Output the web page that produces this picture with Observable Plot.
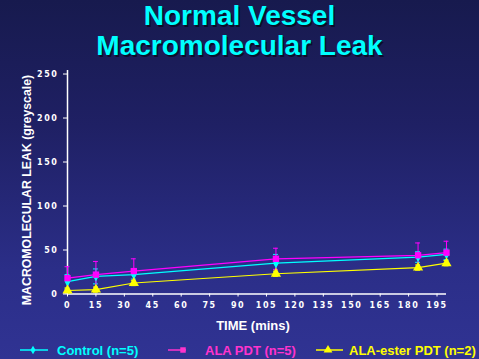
<!DOCTYPE html>
<html><head><meta charset="utf-8">
<script src="https://cdn.jsdelivr.net/npm/d3@7"></script>
<script src="https://cdn.jsdelivr.net/npm/@observablehq/plot@0.6"></script>
<style>
html,body{margin:0;padding:0;}
body{width:479px;height:359px;overflow:hidden;position:relative;
background:linear-gradient(to bottom,#171a4e 0%,#1f2064 35%,#2b2e88 75%,#303393 100%);
font-family:"Liberation Sans",Arial,sans-serif;}
#title{position:absolute;left:0;top:1px;width:479px;text-align:center;color:#00ffff;font-weight:bold;font-size:28px;line-height:30px;text-shadow:1.5px 1.5px 0 rgba(0,0,0,0.55);}
#ylabwrap{position:absolute;left:27px;top:190px;width:0;height:0;}
#ylab{position:absolute;left:0;top:0;transform:translate(-50%,-50%) rotate(-90deg);white-space:nowrap;color:#fff;font-size:12.3px;font-weight:bold;line-height:15px;}
#xlab{position:absolute;left:253px;top:318px;transform:translateX(-50%);color:#fff;font-size:13px;font-weight:bold;white-space:nowrap;}
#plot{position:absolute;left:0;top:0;}
#plot svg text{letter-spacing:1.6px;}
.leg{position:absolute;top:343px;font-size:13px;font-weight:bold;white-space:nowrap;line-height:15px;}
.sw{position:absolute;top:343px;}
</style></head>
<body>
<div id="plot"></div>
<div id="title">Normal Vessel<br>Macromolecular Leak</div>
<div id="ylabwrap"><div id="ylab">MACROMOLECULAR LEAK (greyscale)</div></div>
<div id="xlab">TIME (mins)</div>
<div id="legend"></div>
<script>
const times = [0, 15, 35, 110, 185, 200];
const control = [14, 20, 22, 35, 42, 45];
const controlErr = [8, 8.5, 5, 10, 6, 6];
const alaPdt = [18, 22, 26, 40, 44, 47];
const alaPdtErr = [13, 15, 14, 12, 14, 13];
const ester = [4, 5, 12.5, 23, 30, 35];
const esterErr = [3, 3, 3, 3, 3, 3];
const xTicks = [0,15,30,45,60,75,90,105,120,135,150,165,180,195];
const yTicks = [0,50,100,150,200,250];
const seriesNames = ["Control (n=5)", "ALA PDT (n=5)", "ALA-ester PDT (n=2)"];
const seriesColors = ["#00ffff", "#ff00ff", "#ffff00"];
const legendText = ["#00ffff", "#ff33cc", "#ffff00"];
const symbols = ["diamond", "square", "triangle"];
const symR = [3, 3.6, 3.8];

const vals = [control, alaPdt, ester];
const errs = [controlErr, alaPdtErr, esterErr];
const rows = [];
vals.forEach((v, s) => v.forEach((y, i) => rows.push({s, x: times[i], y, e: errs[s][i]})));

const marks = [];
marks.push(Plot.ruleY([0], {stroke: "#fff", strokeWidth: 1.5}));
marks.push(Plot.ruleX([0], {y1: 0, y2: 254, stroke: "#fff", strokeWidth: 1.5}));
for (let s = 0; s < 3; s++) {
  const d = rows.filter(r => r.s === s);
  marks.push(Plot.line(d, {x: "x", y: "y", stroke: seriesColors[s], strokeWidth: 1.2}));
  marks.push(Plot.ruleX(d, {x: "x", y1: r => r.y - r.e, y2: r => r.y + r.e, stroke: seriesColors[s], strokeWidth: 1}));
  marks.push(Plot.ruleY(d, {y: r => r.y + r.e, x1: r => r.x - 1.3, x2: r => r.x + 1.3, stroke: seriesColors[s], strokeWidth: 1}));
  marks.push(Plot.ruleY(d, {y: r => r.y - r.e, x1: r => r.x - 1.3, x2: r => r.x + 1.3, stroke: seriesColors[s], strokeWidth: 1}));
}
for (let s = 0; s < 3; s++) {
  const d = rows.filter(r => r.s === s);
  marks.push(Plot.dot(d, {x: "x", y: "y", symbol: () => symbols[s], fill: seriesColors[s], r: symR[s]}));
}
marks.push(Plot.axisX({ticks: xTicks, tickSize: 3, tickPadding: 5, color: "#fff", label: null, tickFormat: d => d}));
marks.push(Plot.axisY({ticks: yTicks, tickSize: 4, tickPadding: 5, color: "#fff", label: null, tickFormat: d => d}));

const chart = Plot.plot({
  width: 479, height: 359,
  marginLeft: 67, marginRight: 33, marginTop: 70, marginBottom: 65.5,
  x: {domain: [0, 200]},
  y: {domain: [0, 254]},
  symbol: {type: "identity"},
  style: {background: "transparent", color: "#fff", fontFamily: "'DejaVu Sans', sans-serif", fontSize: "8px", fontWeight: "bold", overflow: "visible"},
  marks
});
document.getElementById("plot").appendChild(chart);

const legPos = [
  {l1: 20, l2: 48, m: 33, t: 57},
  {l1: 168, l2: 186, m: 183, t: 205},
  {l1: 316, l2: 343, m: 328, t: 349}
];
const legend = document.getElementById("legend");
seriesNames.forEach((name, s) => {
  const p = legPos[s];
  const svg = d3.create("svg").attr("width", p.l2 - p.l1 + 8).attr("height", 16)
    .attr("class", "sw").style("left", (p.l1 - 4) + "px").style("overflow", "visible");
  svg.append("line").attr("x1", 4).attr("x2", p.l2 - p.l1 + 4).attr("y1", 7).attr("y2", 7)
    .attr("stroke", legendText[s]).attr("stroke-width", 1.5);
  const sym = [d3.symbolDiamond, d3.symbolSquare, d3.symbolTriangle][s];
  svg.append("path").attr("d", d3.symbol(sym, [22, 30, 34][s])())
    .attr("transform", `translate(${p.m - p.l1 + 4},7)`).attr("fill", legendText[s]);
  legend.appendChild(svg.node());
  const t = document.createElement("div");
  t.className = "leg"; t.textContent = name;
  t.style.left = p.t + "px"; t.style.color = legendText[s];
  legend.appendChild(t);
});
</script>
</body></html>
